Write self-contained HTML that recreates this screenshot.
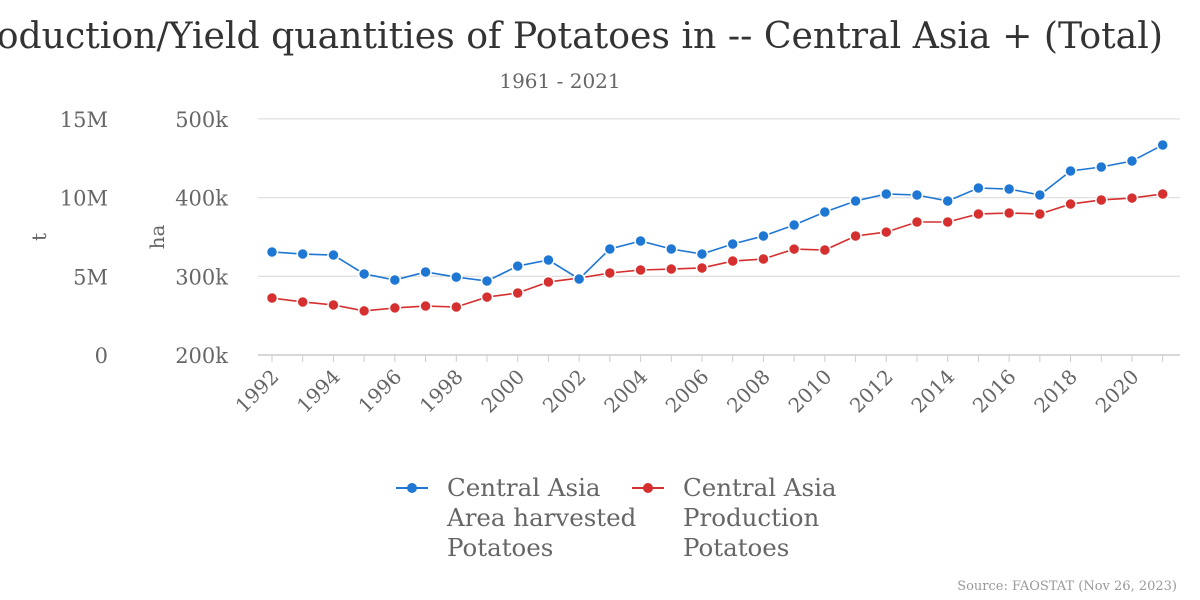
<!DOCTYPE html>
<html><head><meta charset="utf-8"><style>
html,body{margin:0;padding:0;background:#fff;}
svg{display:block;font-family:"DejaVu Serif","Liberation Serif",serif;}
</style></head><body>
<svg id="chart" width="1200" height="600" viewBox="0 0 1200 600">
<text x="559" y="48" text-anchor="middle" font-size="36.2" fill="#333">Production/Yield quantities of Potatoes in -- Central Asia + (Total)</text>
<text x="560" y="88" text-anchor="middle" font-size="20" fill="#666">1961 - 2021</text>
<text transform="translate(46,237) rotate(-90)" text-anchor="middle" font-size="20" fill="#666">t</text>
<text transform="translate(164,237) rotate(-90)" text-anchor="middle" font-size="20" fill="#666">ha</text>
<g id="grid"></g><g id="series"></g><g id="xaxis"></g>
<g font-size="24.5" fill="#666">
 <g>
  <line x1="396" y1="488" x2="428" y2="488" stroke="#1f77d4" stroke-width="2"/>
  <circle cx="412" cy="488" r="5" fill="#1f77d4"/>
  <text x="447" y="496">Central Asia</text><text x="447" y="526">Area harvested</text><text x="447" y="556">Potatoes</text>
 </g>
 <g>
  <line x1="632" y1="488" x2="664" y2="488" stroke="#d62f2f" stroke-width="2"/>
  <circle cx="648" cy="488" r="5" fill="#d62f2f"/>
  <text x="683" y="496">Central Asia</text><text x="683" y="526">Production</text><text x="683" y="556">Potatoes</text>
 </g>
</g>
<text x="1177" y="590" text-anchor="end" font-size="13" fill="#999">Source: FAOSTAT (Nov 26, 2023)</text>
</svg>
<script>
const years=[1992,1993,1994,1995,1996,1997,1998,1999,2000,2001,2002,2003,2004,2005,2006,2007,2008,2009,2010,2011,2012,2013,2014,2015,2016,2017,2018,2019,2020,2021];
const areaHa=[330900,328300,327000,303000,295300,305500,299000,294000,313000,320700,296600,334700,344900,334700,328300,341000,351200,365200,381700,395700,404600,403300,395700,412200,410900,403300,433800,438900,446500,466800];
const productionT=[3620000,3370000,3180000,2800000,2990000,3110000,3050000,3680000,3940000,4640000,4890000,5210000,5400000,5460000,5530000,5970000,6100000,6730000,6670000,7560000,7810000,8450000,8450000,8960000,9020000,8960000,9590000,9850000,9970000,10230000];
const leftTicks=["0","5M","10M","15M"];
const rightTicks=["200k","300k","400k","500k"];
const NS="http://www.w3.org/2000/svg";
const x=y=>272+(y-1992)*30.714;
const yHa=v=>355-(v-200000)/100000*78.7;
const yT=v=>355-v/5000000*78.7;
function mk(tag,attrs,parent){const e=document.createElementNS(NS,tag);for(const k in attrs)e.setAttribute(k,attrs[k]);parent.appendChild(e);return e;}
const grid=document.getElementById('grid'),ser=document.getElementById('series'),xa=document.getElementById('xaxis');
for(let i=0;i<4;i++){
 const yy=355-i*78.7;
 const gl=mk('line',{x1:258,x2:1180,y1:yy,y2:yy,stroke:i==0?'#ccc':'#e0e0e0','stroke-width':i==0?1.5:1.3},grid);
 
 
 const lt=mk('text',{x:108,y:yy+8,'text-anchor':'end','font-size':21,fill:'#666'},grid);lt.textContent=leftTicks[i];
 
 
 const rt=mk('text',{x:228,y:yy+8,'text-anchor':'end','font-size':21,fill:'#666'},grid);rt.textContent=rightTicks[i];
 
 
}
years.forEach(y=>{
 const t=mk('line',{x1:x(y),x2:x(y),y1:355,y2:362,stroke:'#ccc'},xa);
 
 
 if(y%2==0){
  const lb=mk('text',{transform:`translate(${x(y)+8},${378}) rotate(-45)`,'text-anchor':'end','font-size':20,fill:'#666'},xa);
  lb.textContent=y;
  
  
 }
});
function drawSeries(vals,fy,color,name){
 const pl=mk('polyline',{points:vals.map((v,i)=>x(years[i])+','+fy(v)).join(' '),fill:'none',stroke:color,'stroke-width':1.6},ser);
 
 
 vals.forEach((v,i)=>{
  const c=mk('circle',{cx:x(years[i]),cy:fy(v),r:5.5,fill:color,stroke:'#fff','stroke-width':1.5},ser);
  
  
 });
}
drawSeries(productionT,yT,'#d62f2f','production');
drawSeries(areaHa,yHa,'#1f77d4','area-harvested');
</script>
</body></html>
